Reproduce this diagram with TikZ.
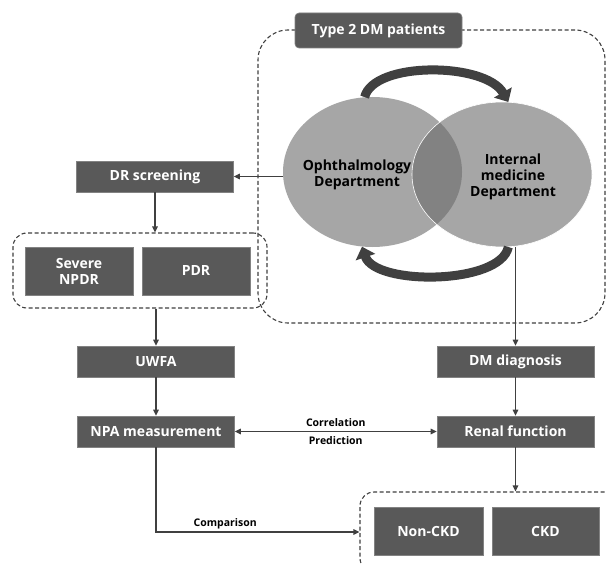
\documentclass[tikz,border=0pt]{standalone}
\usepackage{fontspec}
\setmainfont{Open Sans}
\usetikzlibrary{shapes.geometric,arrows.meta}

\definecolor{boxgray}{HTML}{595959}
\definecolor{linegray}{HTML}{404040}
\definecolor{ellgray}{HTML}{A6A6A6}
\definecolor{overlapgray}{HTML}{828282}

\tikzset{
  darkbox/.style={rectangle, fill=boxgray, draw=boxgray!75!white, line width=0.6pt,
    text=white, font=\fontsize{14}{16}\selectfont\bfseries, align=center, inner sep=0pt},
  dashbox/.style={rectangle, draw=linegray, dash pattern=on 4pt off 2.5pt,
    line width=1.1pt, rounded corners=14pt, inner sep=0pt},
  dept/.style={ellipse, fill=ellgray, inner sep=0pt},
  depttext/.style={font=\fontsize{14}{16}\selectfont\bfseries, align=center},
  flow/.style={draw=linegray, line width=1.1pt, -{Triangle[length=6pt,width=5.5pt]}},
  cyclearrow/.style={draw=linegray, line width=9pt, -{Triangle[length=11pt,width=20pt]}},
  lbl/.style={font=\fontsize{10.5}{12}\selectfont\bfseries, inner sep=2pt}
}

\begin{document}
\begin{tikzpicture}[x=1pt, y=-1pt]

  \clip (0,0) rectangle (607,564);
  \fill[white] (0,0) rectangle (607,564);

  % groups
  \node[dashbox, rounded corners=30pt, minimum width=347pt, minimum height=293pt] (dmgroup) at (431.5,176.5) {};
  \node[dashbox, minimum width=254pt, minimum height=75pt] (drgroup) at (140,270.5) {};
  \node[dashbox, minimum width=265pt, minimum height=80pt] (ckdgroup) at (492.5,532) {};

  % departments
  \node[dept, minimum width=179pt, minimum height=150pt] (oph) at (372.5,172) {};
  \node[dept, minimum width=180pt, minimum height=145pt] (int) at (502,174.5) {};
  \begin{scope}
    \clip (oph.center) ellipse [x radius=89.5pt, y radius=75pt];
    \fill[overlapgray] (int.center) ellipse [x radius=90pt, y radius=72.5pt];
  \end{scope}
  \draw[white, line width=0.6pt] (int.center) ellipse [x radius=90pt, y radius=72.5pt];
  \node[depttext] (ophtext) at (357,175) {Ophthalmology\\Department};
  \node[depttext] (inttext) at (513,177) {Internal\\medicine\\Department};

  \draw[cyclearrow] (oph.96) .. controls +(9,-36) and +(-23,-40) .. (int.85);
  \draw[cyclearrow] (int.-85) .. controls +(-8,38) and +(13,39) .. (oph.-98);

  \node[darkbox, rounded corners=4pt, minimum width=167pt, minimum height=35pt] (patients) at (378.5,30.5) {Type 2 DM patients};

  % left column
  \node[darkbox, minimum width=157pt, minimum height=31pt] (drscreen) at (155,176.5) {DR screening};
  \node[darkbox, minimum width=108pt, minimum height=48pt] (npdr) at (79,271) {Severe\\NPDR};
  \node[darkbox, minimum width=108pt, minimum height=48pt] (pdr) at (196,271) {PDR};
  \node[darkbox, minimum width=157pt, minimum height=31pt] (uwfa) at (156,361.5) {UWFA};
  \node[darkbox, minimum width=157pt, minimum height=31pt] (npa) at (156,431.5) {NPA measurement};

  % right column
  \node[darkbox, minimum width=157pt, minimum height=31pt] (dmdiag) at (515.5,361.5) {DM diagnosis};
  \node[darkbox, minimum width=157pt, minimum height=31pt] (renal) at (515.5,431.5) {Renal function};
  \node[darkbox, minimum width=109pt, minimum height=48pt] (nonckd) at (428.5,531) {Non-CKD};
  \node[darkbox, minimum width=107pt, minimum height=48pt] (ckd) at (545.5,531) {CKD};

  % connectors
  \draw[flow] (drscreen.east -| oph.west) -- (drscreen.east);
  \draw[flow] (drscreen.south) -- (drscreen.south |- drgroup.north);
  \draw[flow] (drgroup.south -| uwfa.north) -- (uwfa.north);
  \draw[flow] (uwfa.south) -- (npa.north);
  \draw[flow] (dmdiag.north |- int.south) -- (dmdiag.north);
  \draw[flow] (dmdiag.south) -- (renal.north);
  \draw[flow] (renal.south) -- (renal.south |- ckdgroup.north);
  \draw[flow, {Triangle[length=6pt,width=5.5pt]}-{Triangle[length=6pt,width=5.5pt]}] (npa.east) -- (renal.west)
    node[lbl, midway, above=2pt] {Correlation}
    node[lbl, midway, below=2pt] {Prediction};
  \draw[flow] (npa.south) |- (ckdgroup.west)
    node[lbl, above, pos=0.67] {Comparison};

\end{tikzpicture}
\end{document}
